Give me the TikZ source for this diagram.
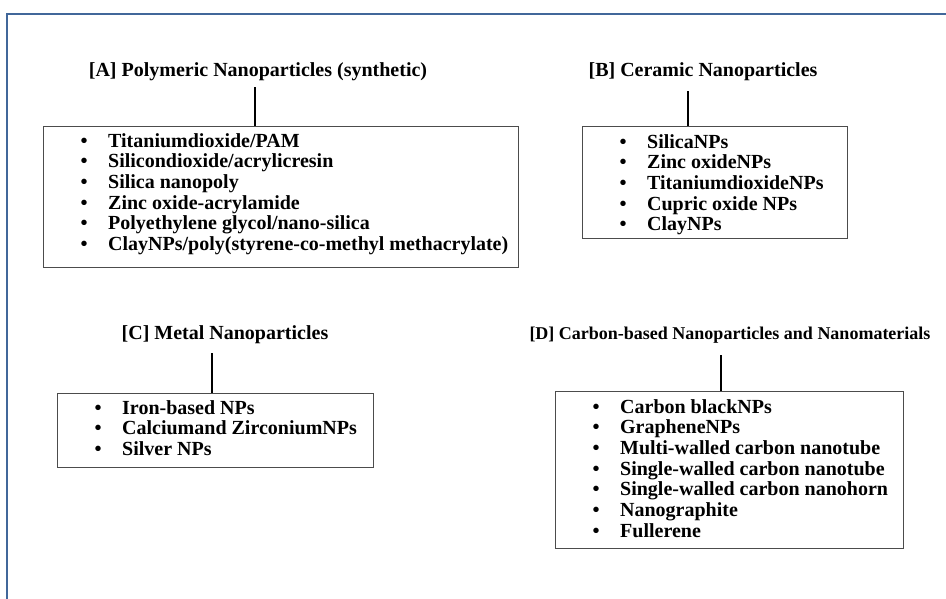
\documentclass[tikz,border=0pt]{standalone}
\usepackage{fontspec}
\setmainfont{Liberation Serif}
\usetikzlibrary{calc}

% punkt listy
\newcommand{\pkt}[1]{\makebox[27.5pt][l]{\textbullet}#1}

\begin{document}
\begin{tikzpicture}[x=1pt,y=-1pt,
	tytul/.style={font=\bfseries\fontsize{20}{24}\selectfont, inner sep=0pt},
	ramka/.style={draw=black!70, line width=1.3pt, inner sep=0pt, anchor=north west},
	lista/.style={font=\bfseries\fontsize{20}{20.7}\selectfont, align=left, inner sep=0pt, anchor=north west},
	laczenie/.style={line width=1.8pt}
	]
	
	\useasboundingbox (0,0) rectangle (946,599);
	
	% Rama
	\draw[color={rgb,255:red,65;green,103;blue,154}, line width=2.5pt]
	(7,599) -- (7,14) -- (946,14);
	
	% [A]
	\node[tytul] (tA) at (258,72) {[A] Polymeric Nanoparticles (synthetic)};
	\node[ramka, minimum width=475pt, minimum height=141pt] (bA) at (43,126) {};
	\node[lista] (lA) at ($(bA.north west)+(37.5,7)$) {
		\pkt{Titaniumdioxide/PAM}\\
		\pkt{Silicondioxide/acrylicresin}\\
		\pkt{Silica nanopoly}\\
		\pkt{Zinc oxide-acrylamide}\\
		\pkt{Polyethylene glycol/nano-silica}\\
		\pkt{ClayNPs/poly(styrene-co-methyl methacrylate)}
	};
	\coordinate (cA) at ($(tA.south)+(-3,6)$);
	\draw[laczenie] (cA) -- (cA |- bA.north);
	
	% [B]
	\node[tytul] (tB) at (703,72) {[B] Ceramic Nanoparticles};
	\node[ramka, minimum width=265pt, minimum height=112pt] (bB) at (582,126) {};
	\node[lista] (lB) at ($(bB.north west)+(37.5,8)$) {
		\pkt{SilicaNPs}\\
		\pkt{Zinc oxideNPs}\\
		\pkt{TitaniumdioxideNPs}\\
		\pkt{Cupric oxide NPs}\\
		\pkt{ClayNPs}
	};
	\coordinate (cB) at ($(tB.south)+(-15,10)$);
	\draw[laczenie] (cB) -- (cB |- bB.north);
	
	% [C]
	\node[tytul] (tC) at (225,335) {[C] Metal Nanoparticles};
	\node[ramka, minimum width=316pt, minimum height=74pt] (bC) at (57,393) {};
	\node[lista] (lC) at ($(bC.north west)+(37.5,7)$) {
		\pkt{Iron-based NPs}\\
		\pkt{Calciumand ZirconiumNPs}\\
		\pkt{Silver NPs}
	};
	\coordinate (cC) at ($(tC.south)+(-13,9)$);
	\draw[laczenie] (cC) -- (cC |- bC.north);
	
	% [D]
	\node[tytul, font=\bfseries\fontsize{18}{22}\selectfont] (tD) at (730,335)
	{[D] Carbon-based Nanoparticles and Nanomaterials};
	\node[ramka, minimum width=348pt, minimum height=157pt] (bD) at (555,391) {};
	\node[lista] (lD) at ($(bD.north west)+(37.5,8)$) {
		\pkt{Carbon blackNPs}\\
		\pkt{GrapheneNPs}\\
		\pkt{Multi-walled carbon nanotube}\\
		\pkt{Single-walled carbon nanotube}\\
		\pkt{Single-walled carbon nanohorn}\\
		\pkt{Nanographite}\\
		\pkt{Fullerene}
	};
	\coordinate (cD) at ($(tD.south)+(-9,12)$);
	\draw[laczenie] (cD) -- (cD |- bD.north);
	
\end{tikzpicture}
\end{document}
